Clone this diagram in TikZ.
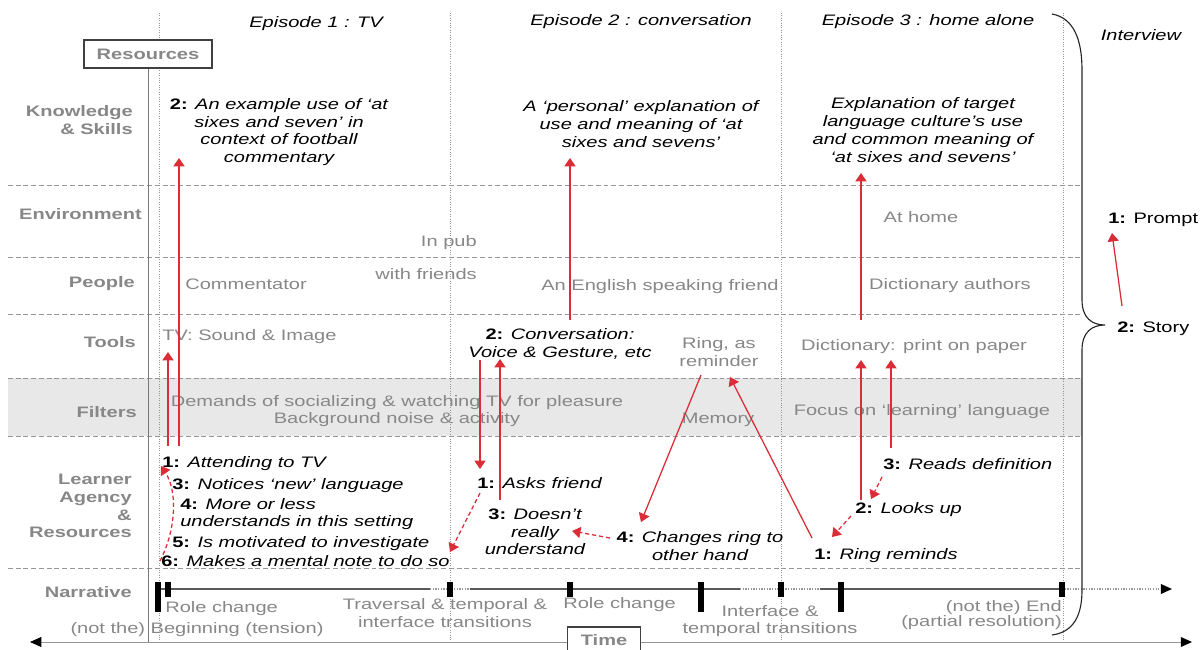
\documentclass[tikz,border=0pt]{standalone}
\usepackage{fontspec}
\setmainfont[FakeStretch=1.32]{Liberation Sans}
\usetikzlibrary{arrows.meta}
\definecolor{txtgrey}{RGB}{135,135,135}
\definecolor{linkred}{RGB}{218,45,55}
\definecolor{bandgrey}{RGB}{232,232,232}
\definecolor{gridgrey}{RGB}{150,150,150}
\newcommand{\stepno}[1]{\textup{\textbf{#1:}}}

\begin{document}
\fontsize{10.8}{12.6}\selectfont
\begin{tikzpicture}[x=0.025cm, y=-0.025cm, inner sep=0pt,
  rowlabel/.style={anchor=east, align=right, font=\bfseries, text=txtgrey},
  grey/.style={text=txtgrey},
  note/.style={font=\itshape},
  gridline/.style={draw=gridgrey, dash pattern=on 3.5pt off 2pt, line width=0.6pt},
  epline/.style={draw=gridgrey, densely dotted, line width=0.7pt},
  link/.style={draw=linkred, line width=0.9pt, -{Triangle[length=6pt,width=8pt]}},
  hint/.style={link, dash pattern=on 3pt off 2pt},
  tick/.style={line width=3.6pt},
  box/.style={draw=black!75, fill=white, line width=0.8pt, font=\bfseries, text=txtgrey}]
  \useasboundingbox (0,0) rectangle (1203,650);

  \fill[bandgrey] (8,378) rectangle (1082,436);
  \foreach \y in {185,257,314,378,436,568}
    \draw[gridline] (8,\y) -- (1082,\y);
  \foreach \x in {159,450,781,1063}
    \draw[epline] (\x,13) -- (\x,640);
  \draw[gridgrey!80!black, line width=0.7pt] (148,68) -- (148,642);

  \node[rowlabel] (knowlab) at (133,120) {Knowledge\\\& Skills};
  \node[rowlabel, anchor=base east] (envlab) at (142,219) {Environment};
  \node[rowlabel, anchor=base east] (peoplab) at (135,287) {People};
  \node[rowlabel, anchor=base east] (toollab) at (136,347) {Tools};
  \node[rowlabel, anchor=base east] (filtlab) at (137,417) {Filters};
  \node[rowlabel] (agentlab) at (132,506) {Learner\\Agency\\\&\\Resources};
  \node[rowlabel, anchor=base east] (narrlab) at (132,597) {Narrative};

  \node[box, minimum width=3.2cm, minimum height=0.7cm] (resources) at (148,54) {Resources};

  \node[note, anchor=base] (ep1) at (316,28) {Episode 1 : TV};
  \node[note, anchor=base] (ep2) at (641,26) {Episode 2 : conversation};
  \node[note, anchor=base] (ep3) at (928,26) {Episode 3 : home alone};
  \node[note, anchor=base] (interview) at (1141,41) {Interview};

  \node[note, align=center] (know1) at (279,132) {\stepno{2} An example use of ‘at\\sixes and seven’ in\\context of football\\commentary};
  \node[note, align=center] (know2) at (641,124) {A ‘personal’ explanation of\\use and meaning of ‘at\\sixes and sevens’};
  \node[note, align=center] (know3) at (923,130) {Explanation of target\\language culture’s use\\and common meaning of\\‘at sixes and sevens’};

  \node[grey, anchor=base east] (pub) at (477,246) {In pub};
  \node[grey, anchor=base east] (friends) at (477,279) {with friends};
  \node[grey, anchor=base] (home) at (921,222) {At home};
  \node[grey, anchor=base west] (commentator) at (185,289) {Commentator};
  \node[grey, anchor=base] (friend) at (660,290) {An English speaking friend};
  \node[grey, anchor=base] (authors) at (950,289) {Dictionary authors};

  \node[grey, anchor=base west] (tv) at (162,340) {TV: Sound \& Image};
  \node[note, align=center] (conv) at (560,344) {\stepno{2} Conversation:\\Voice \& Gesture, etc};
  \node[grey, align=center] (ring) at (719,352) {Ring, as\\reminder};
  \node[grey, anchor=base] (dict) at (914,350) {Dictionary: print on paper};

  \node[grey, align=center] (demands) at (397,411) {Demands of socializing \& watching TV for pleasure\\Background noise \& activity};
  \node[grey, anchor=base] (memory) at (718,423) {Memory};
  \node[grey, anchor=base] (focus) at (922,415) {Focus on ‘learning’ language};

  \node[note, anchor=base west] (attend) at (162,467) {\stepno{1} Attending to TV};
  \node[note, anchor=base west] (notice) at (172,489) {\stepno{3} Notices ‘new’ language};
  \node[note, align=left, anchor=west] (understand) at (180,514) {\stepno{4} More or less\\understands in this setting};
  \node[note, anchor=base west] (motiv) at (172,547) {\stepno{5} Is motivated to investigate};
  \node[note, anchor=base west] (mental) at (161,566) {\stepno{6} Makes a mental note to do so};
  \node[note, anchor=base west] (asks) at (477,488) {\stepno{1} Asks friend};
  \node[note, align=center] (doesnt) at (535,532) {\stepno{3} Doesn’t\\really\\understand};
  \node[note, align=center] (changes) at (700,546) {\stepno{4} Changes ring to\\other hand};
  \node[note, anchor=base west] (reads) at (883,469) {\stepno{3} Reads definition};
  \node[note, anchor=base west] (looks) at (855,513) {\stepno{2} Looks up};
  \node[note, anchor=base west] (reminds) at (814,559) {\stepno{1} Ring reminds};

  \node[anchor=base west] (prompt) at (1108,223) {\textbf{1:} Prompt};
  \node[anchor=base west] (story) at (1117,332) {\textbf{2:} Story};

  \node[grey, anchor=base west] (role1) at (165,612) {Role change};
  \node[grey, anchor=base] (beginning) at (197,633) {(not the) Beginning (tension)};
  \node[grey, align=center] (traversal) at (445,613) {Traversal \& temporal \&\\interface transitions};
  \node[grey, anchor=base west] (role2) at (563,608) {Role change};
  \node[grey, align=center] (interface) at (770,621) {Interface \&\\temporal transitions};
  \node[grey, align=right, anchor=east] (ending) at (1062,615) {(not the) End\\[-2pt](partial resolution)};

  \draw[gridgrey!60!black, line width=0.9pt] (158,589) -- (430,589) (470,589) -- (740,589) (820,589) -- (1062,589);
  \draw[gridgrey, densely dotted, line width=0.9pt] (430,589) -- (470,589) (740,589) -- (820,589);
  \draw[gridgrey, densely dotted, line width=0.9pt, -{Triangle[length=8pt,width=7pt,black]}] (1062,589) -- (1172,589);
  \foreach \x in {168,450,570,781,1062}
    \draw[tick] (\x,582) -- (\x,597);
  \foreach \x in {158,701,841}
    \draw[tick] (\x,582) -- (\x,612);

  \draw[gridgrey, line width=0.7pt, {Triangle[length=8pt,width=7pt,black]}-{Triangle[length=8pt,width=7pt,black]}] (30,642) -- (1192,642);
  \node[box, minimum width=1.825cm, minimum height=0.65cm] (time) at (604,640) {Time};

  \draw[black!85, line width=0.8pt] (1052,14) .. controls (1074,18) and (1082,40) .. (1082,70) -- (1082,300)
    .. controls (1082,318) and (1092,325) .. (1105,325) .. controls (1092,325) and (1082,332) .. (1082,350)
    -- (1082,590) .. controls (1082,615) and (1074,632) .. (1052,635);

  \coordinate (tvlow) at (168,446);    \coordinate (tvtop) at (168,352);
  \coordinate (exlow) at (179,446);    \coordinate (extop) at (179,158);
  \coordinate (notelow) at (160,561);  \coordinate (notetop) at (161,466);
  \coordinate (voicelow) at (480,360); \coordinate (voicedown) at (480,469);
  \coordinate (askup) at (500,500);    \coordinate (askvoice) at (500,359);
  \coordinate (convtop) at (570,320);  \coordinate (perstop) at (570,158);
  \coordinate (askfrom) at (480,493);  \coordinate (askto) at (450,552);
  \coordinate (ringfrom) at (701,375); \coordinate (ringto) at (641,522);
  \coordinate (remfrom) at (812,538);  \coordinate (remto) at (730,377);
  \coordinate (chfrom) at (610,538);   \coordinate (chto) at (572,531);
  \coordinate (lookfrom) at (861,500); \coordinate (lookto) at (861,360);
  \coordinate (dictfrom) at (861,320); \coordinate (dictto) at (861,173);
  \coordinate (readfrom) at (891,448); \coordinate (readto) at (891,360);
  \coordinate (rdfrom) at (882,477);   \coordinate (rdto) at (871,499);
  \coordinate (lkfrom) at (851,516);   \coordinate (lkto) at (832,537);
  \coordinate (storyfrom) at (1122,306); \coordinate (storyto) at (1112,233);

  \draw[link] (tvlow) -- (tvtop);
  \draw[link] (exlow) -- (extop);
  \draw[hint] (notelow) .. controls (177,528) and (177,490) .. (notetop);
  \draw[link] (voicelow) -- (voicedown);
  \draw[link] (askup) -- (askvoice);
  \draw[link] (convtop) -- (perstop);
  \draw[hint] (askfrom) -- (askto);
  \draw[link] (ringfrom) -- (ringto);
  \draw[link] (remfrom) -- (remto);
  \draw[hint] (chfrom) -- (chto);
  \draw[link] (lookfrom) -- (lookto);
  \draw[link] (dictfrom) -- (dictto);
  \draw[link] (readfrom) -- (readto);
  \draw[hint] (rdfrom) -- (rdto);
  \draw[hint] (lkfrom) -- (lkto);
  \draw[link] (storyfrom) -- (storyto);
\end{tikzpicture}
\end{document}
